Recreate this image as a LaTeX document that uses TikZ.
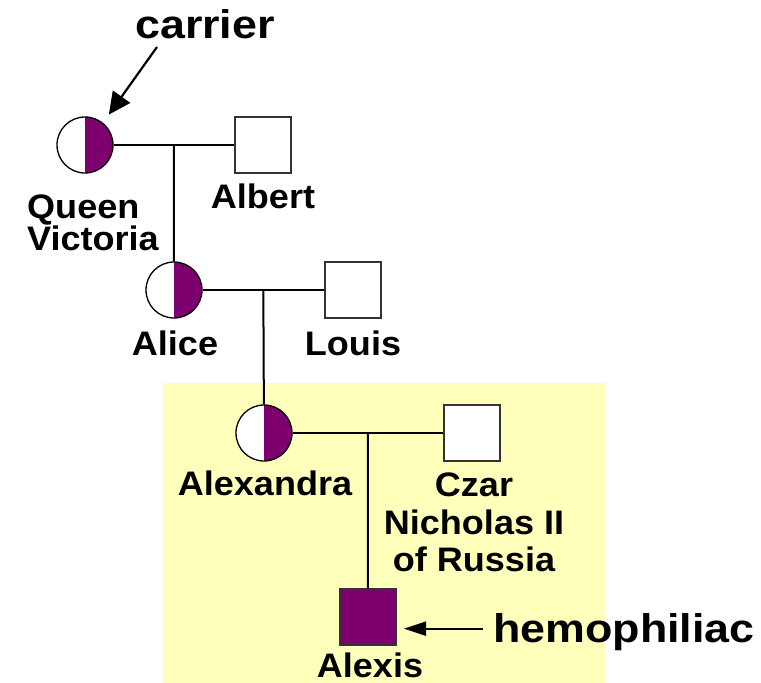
\documentclass[tikz,border=0pt]{standalone}
\usepackage{fontspec}
\setmainfont{Liberation Sans}[FakeStretch=1.06]
\newfontfamily\notefont{Liberation Sans}[FakeStretch=1.12]
\usetikzlibrary{arrows.meta}
\definecolor{hemopurple}{RGB}{125,0,110}
\definecolor{boxyellow}{RGB}{255,255,188}
\tikzstyle{female} = [circle, draw=black, line width=1.3pt, minimum size=56pt, inner sep=0pt, fill=white]
\tikzstyle{carrierfemale} = [female, path picture={\fill[hemopurple] (path picture bounding box.north) rectangle (path picture bounding box.south east);}]
\tikzstyle{male} = [rectangle, draw=black!80, line width=2pt, minimum size=56pt, inner sep=0pt, fill=white]
\tikzstyle{affectedmale} = [male, fill=hemopurple]
\tikzstyle{persname} = [inner sep=0pt, font=\fontsize{34}{34}\selectfont\bfseries]
\tikzstyle{note} = [inner sep=0pt, font=\notefont\fontsize{40}{40}\selectfont\bfseries]
\tikzstyle{bond} = [line width=2pt]
\tikzstyle{arrow} = [line width=2.2pt, -{Triangle[length=22pt,width=21pt]}]

\begin{document}
\begin{tikzpicture}[x=1pt, y=-1pt]
        \useasboundingbox (0,0) rectangle (761,683);
        % shaded part of the tree
        \fill[boxyellow] (163,383) rectangle (605,683);

        % people
        \node[carrierfemale] (vic) at (85,145) {};
        \node[male] (alb) at (263,145) {};
        \node[carrierfemale] (alice) at (174,290) {};
        \node[male] (louis) at (353,290) {};
        \node[carrierfemale] (alexa) at (264,433) {};
        \node[male] (czar) at (472,433) {};
        \node[affectedmale] (alexis) at (368,617) {};

        % names
        \node[persname, anchor=north west, align=left, font=\fontsize{34}{32}\selectfont\bfseries] (vicname) at (27,195) {Queen\\Victoria};
        \node[persname, anchor=base] (albname) at (263,208) {Albert};
        \node[persname, anchor=base] (alicename) at (175,355) {Alice};
        \node[persname, anchor=base] (louisname) at (353,355) {Louis};
        \node[persname, anchor=base] (alexaname) at (265,495) {Alexandra};
        \node[persname, anchor=north, align=center, font=\fontsize{34}{37.5}\selectfont\bfseries] (czarname) at (474,473) {Czar\\Nicholas II\\of Russia};
        \node[persname, anchor=base] (alexisname) at (370,677) {Alexis};

        \node[note, anchor=base] (carrier) at (205,38) {carrier};
        \node[note, anchor=base west] (hemo) at (493,642) {hemophiliac};
        \coordinate (ctail) at (157,47);
        \coordinate (htail) at ([yshift=3pt]hemo.west);

        % marriages and children
        \draw[bond] (vic) -- coordinate (m1) (alb);
        \draw[bond] (m1) -- (alice);
        \draw[bond] (alice) -- coordinate (m2) (louis);
        \draw[bond] (m2) -- (alexa);
        \draw[bond] (alexa) -- coordinate (m3) (czar);
        \draw[bond] (m3) -- (alexis);

        \draw[arrow, shorten >=10pt] (ctail) -- (vic.51);
        \draw[arrow, -{Triangle[length=22pt,width=14pt]}, shorten <=10pt, shorten >=7pt] (htail) -- (alexis.east |- htail);
    \end{tikzpicture}
\end{document}
